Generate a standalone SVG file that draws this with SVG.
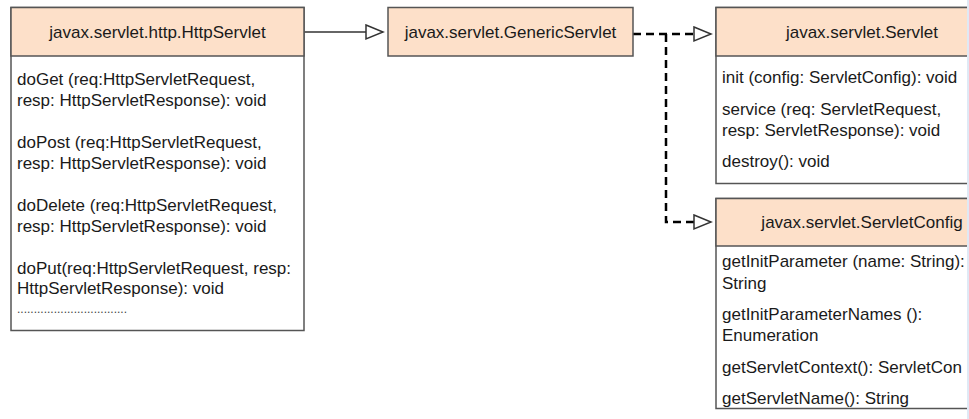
<svg xmlns="http://www.w3.org/2000/svg" width="969" height="419" viewBox="0 0 969 419">
<style>
.box{fill:#ffffff;stroke:#555555;stroke-width:1.5}
.hdr{fill:#fde0c9;stroke:#555555;stroke-width:1.5}
.t{font-family:"Liberation Sans",Arial,sans-serif;font-size:17px;fill:#1a1a1a}
.c{text-anchor:middle}
.dots{font-size:12px;fill:#444444}
.solid{fill:none;stroke:#333333;stroke-width:1.5}
.dash{fill:none;stroke:#000000;stroke-width:2.5;stroke-dasharray:8 5}
</style>
<defs>
<marker id="tri" markerWidth="20" markerHeight="18" refX="18" refY="8" orient="auto" markerUnits="userSpaceOnUse">
<path d="M1,1 L18,8 L1,15 Z" fill="#ffffff" stroke="#333333" stroke-width="1.5"/>
</marker>
</defs>
<rect x="0" y="0" width="969" height="419" fill="#ffffff"/>
<g id="connectors">
<path class="solid" d="M304,32 H383" marker-end="url(#tri)"/>
<path class="dash" d="M633,34 H694"/>
<path class="dash" d="M666,34 V222 H694"/>
<path class="solid" d="M694,34 H711" marker-end="url(#tri)"/>
<path class="solid" d="M694,222 H711" marker-end="url(#tri)"/>
</g>
<g id="HttpServlet">
<rect class="box" x="11" y="7.5" width="293" height="323"/>
<rect class="hdr" x="11" y="7.5" width="293" height="48.5"/>
<text class="t c" x="157.5" y="38">javax.servlet.http.HttpServlet</text>
<text class="t" x="17" y="85">doGet (req:HttpServletRequest,</text>
<text class="t" x="17" y="106">resp: HttpServletResponse): void</text>
<text class="t" x="17" y="148">doPost (req:HttpServletRequest,</text>
<text class="t" x="17" y="169">resp: HttpServletResponse): void</text>
<text class="t" x="17" y="211">doDelete (req:HttpServletRequest,</text>
<text class="t" x="17" y="232">resp: HttpServletResponse): void</text>
<text class="t" x="17" y="274">doPut(req:HttpServletRequest, resp:</text>
<text class="t" x="17" y="294">HttpServletResponse): void</text>
<text class="t dots" x="17" y="313">.................................</text>
</g>
<g id="GenericServlet">
<rect class="hdr" x="388" y="7.5" width="245" height="48.5"/>
<text class="t c" x="510.5" y="38">javax.servlet.GenericServlet</text>
</g>
<g id="Servlet">
<rect class="box" x="716" y="7.5" width="293" height="176"/>
<rect class="hdr" x="716" y="7.5" width="293" height="48.5"/>
<text class="t c" x="862" y="38">javax.servlet.Servlet</text>
<text class="t" x="722" y="83">init (config: ServletConfig): void</text>
<text class="t" x="722" y="115">service (req: ServletRequest,</text>
<text class="t" x="722" y="136">resp: ServletResponse): void</text>
<text class="t" x="722" y="167">destroy(): void</text>
</g>
<g id="ServletConfig">
<rect class="box" x="716" y="198.5" width="293" height="210"/>
<rect class="hdr" x="716" y="198.5" width="293" height="47.5"/>
<text class="t c" x="862" y="228">javax.servlet.ServletConfig</text>
<text class="t" x="722" y="267">getInitParameter (name: String):</text>
<text class="t" x="722" y="289">String</text>
<text class="t" x="722" y="320">getInitParameterNames  ():</text>
<text class="t" x="722" y="341">Enumeration</text>
<text class="t" x="722" y="373">getServletContext(): ServletCon</text>
<text class="t" x="722" y="404">getServletName(): String</text>
</g>
<rect x="967" y="0" width="2" height="419" fill="#dfe9f5"/>
</svg>
